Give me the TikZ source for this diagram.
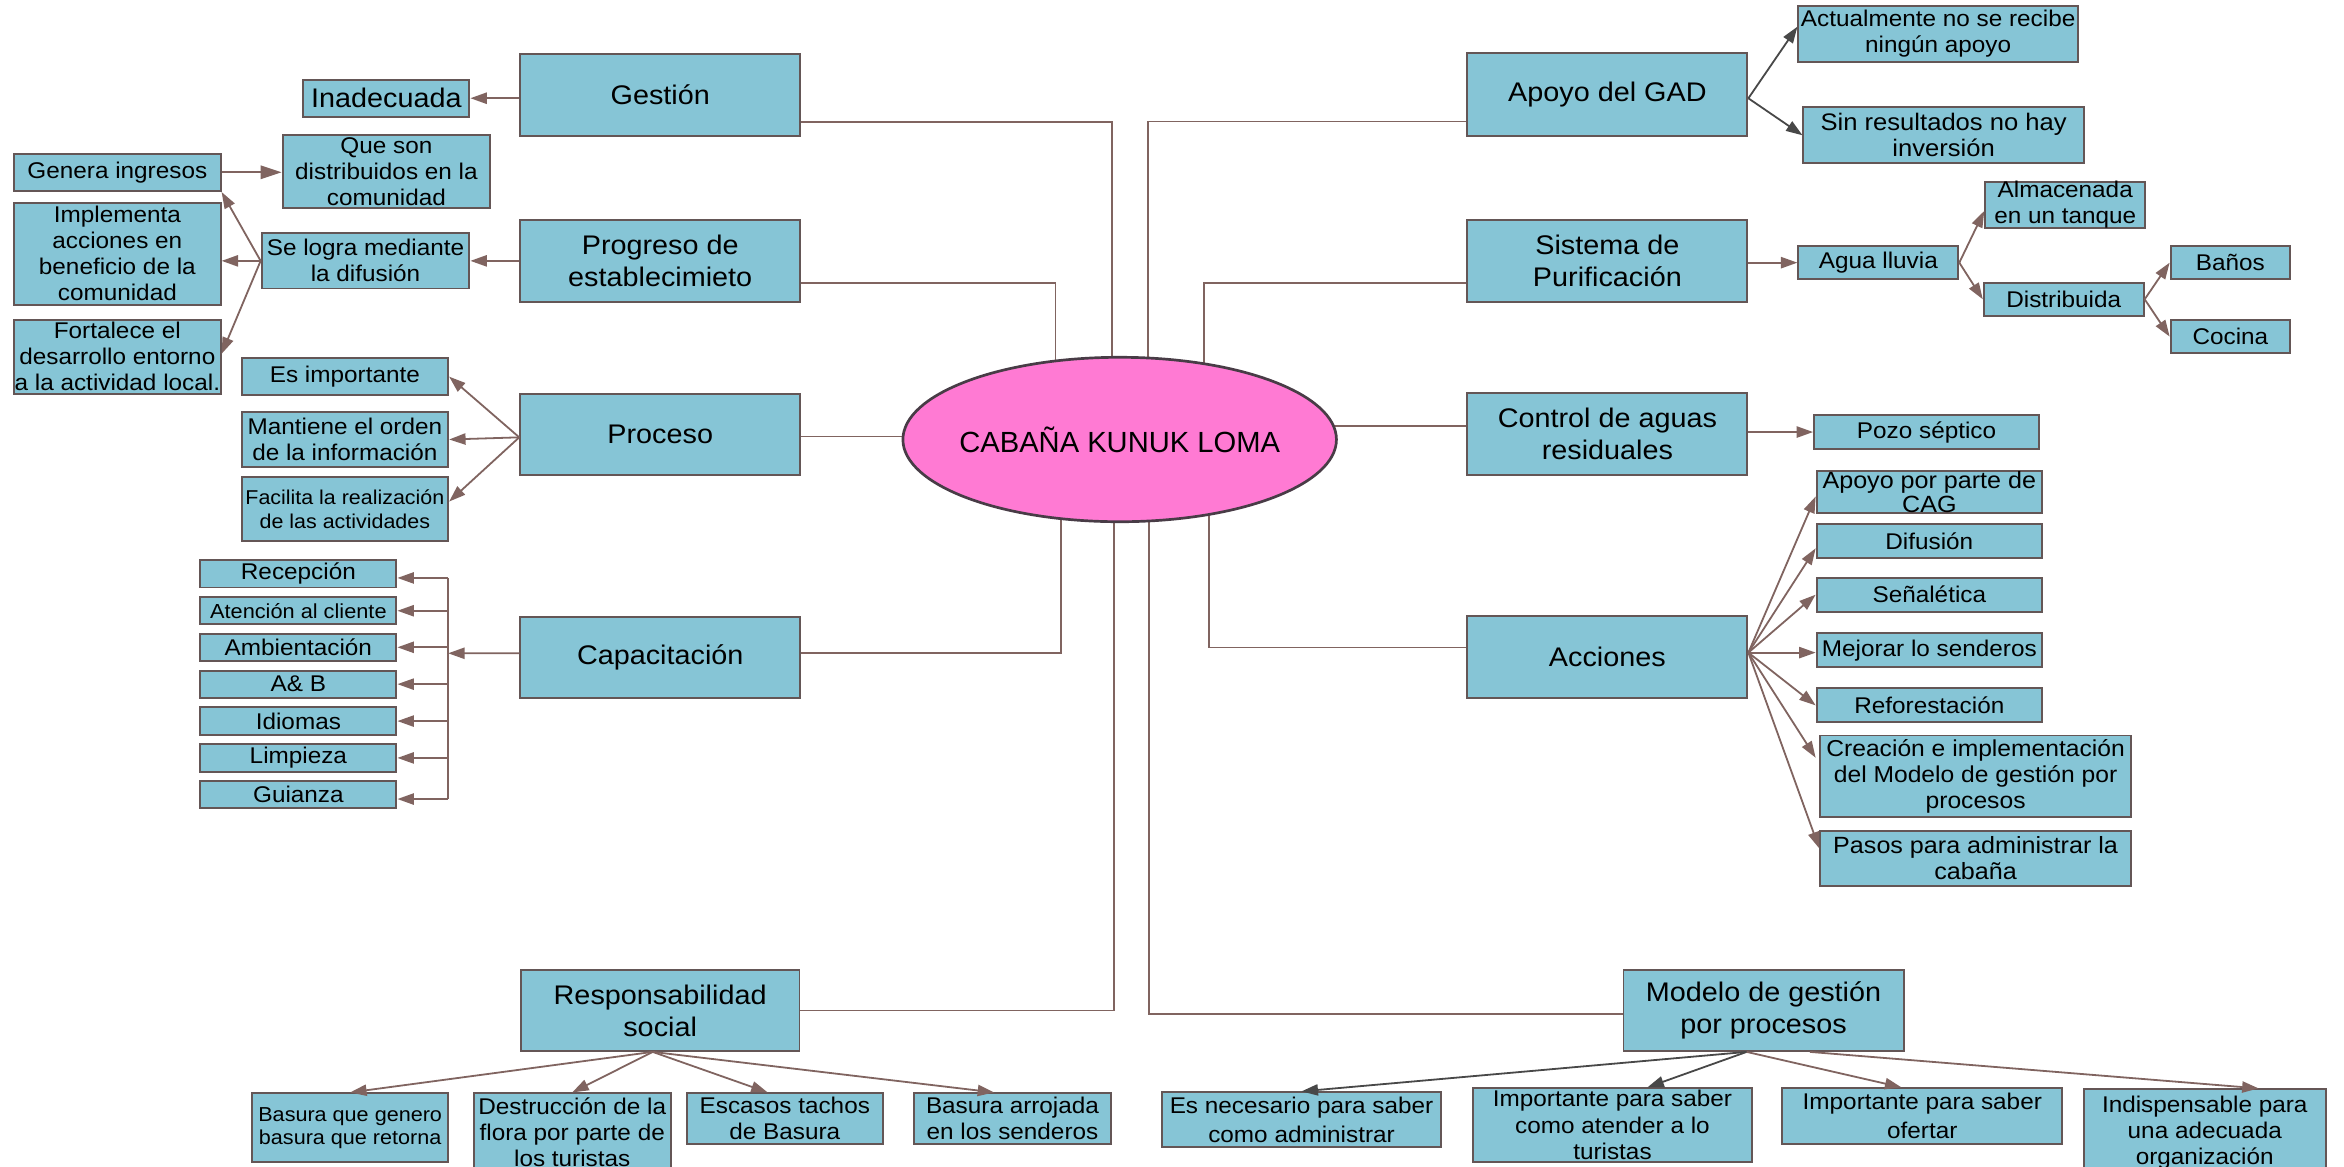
\documentclass[tikz,border=0pt]{standalone}
\usepackage{fontspec}
\setmainfont{Liberation Sans}
\newfontfamily\boxfont[FakeStretch=1.07]{Liberation Sans}
\usetikzlibrary{arrows.meta,shapes.geometric,backgrounds}

\definecolor{boxfill}{RGB}{134,197,214}
\definecolor{boxline}{RGB}{100,86,86}
\definecolor{linkc}{RGB}{128,100,96}
\definecolor{darklink}{RGB}{72,72,72}
\definecolor{hubfill}{RGB}{255,122,211}
\definecolor{hubline}{RGB}{72,60,70}

\tikzset{
  box/.style={draw=boxline, fill=boxfill, line width=1.3pt, inner sep=0pt},
  fs/.style 2 args={font=\boxfont\fontsize{#1}{#2}\selectfont},
  boxtext/.style={inner sep=0pt, align=center, text=black, fs={15.2}{17.4}},
  main/.style={fs={18}{21.5}},
  link/.style={draw=linkc, line width=1.2pt},
  arr/.style={link, -{Triangle[length=11pt,width=7.5pt]}},
  bigarr/.style={link, -{Triangle[length=14pt,width=9pt]}},
  darr/.style={arr, draw=darklink},
}

% box from corner (x1,y1) to (x2,y2), name, text
\newcommand\bx[7][]{%
  \node[box, minimum width={#4-#2}, minimum height={#5-#3}] (#6) at ({(#2+#4)/2},{(#3+#5)/2}) {};
  \node[boxtext, #1] at (#6.center) {#7};}

\begin{document}
\begin{tikzpicture}[x=1pt, y=-1pt]
\useasboundingbox (0,0) rectangle (1568,780);

% central topic
\node[ellipse, draw=hubline, fill=hubfill, line width=1.8pt, minimum width=290pt,
      minimum height=110pt, inner sep=0pt] (hub) at (749,294) {};
\node[inner sep=0pt, font=\fontsize{19.5}{22}\selectfont] at (hub.center) {CABAÑA KUNUK LOMA};

% main branches, left
\bx[main]{348}{36}{535.3}{90.8}{gestion}{Gestión}
\bx[main]{348}{147}{535.3}{202}{progreso}{Progreso de\\establecimieto}
\bx[main]{348}{263.3}{535.3}{317.8}{proceso}{Proceso}
\bx[main]{348}{412.5}{535.3}{466.7}{capac}{Capacitación}
\bx[main]{348.4}{649}{534.8}{703}{resp}{Responsabilidad\\social}

% main branches, right
\bx[main]{981.6}{35.7}{1168.9}{90.8}{apoyo}{Apoyo del GAD}
\bx[main]{981.6}{147.2}{1168.9}{201.8}{sistema}{Sistema de\\Purificación}
\bx[main]{981.6}{263}{1168.9}{317.8}{control}{Control de aguas\\residuales}
\bx[main]{981.6}{412}{1168.9}{467.1}{acciones}{Acciones}
\bx[main]{1086}{649}{1273.4}{703}{modelo}{Modelo de gestión\\por procesos}

% white page and branch lines to the central topic, behind the shapes
\begin{scope}[on background layer]
  \fill[white] (0,0) rectangle (1568,780);
  \draw[link] ([yshift=-18pt]gestion.east) -| ([xshift=-5pt]hub.center);
  \draw[link] ([yshift=-14.7pt]progreso.east) -| ([xshift=-43pt]hub.center);
  \draw[link] ([yshift=-1.5pt]proceso.east) coordinate (pe) -- (pe -| hub.center);
  \draw[link] ([yshift=2.6pt]capac.east) -| ([xshift=-39pt]hub.center);
  \draw[link] (resp.east) -| ([xshift=-4pt]hub.center);
  \draw[link] ([yshift=-18pt]apoyo.west) -| ([xshift=19pt]hub.center);
  \draw[link] ([yshift=-14.6pt]sistema.west) -| ([xshift=56.5pt]hub.center);
  \draw[link] ([yshift=5.6pt]control.west) coordinate (ce) -- (ce -| hub.center);
  \draw[link] ([yshift=6.4pt]acciones.west) -| ([xshift=59.5pt]hub.center);
  \draw[link] ([yshift=-2.3pt]modelo.west) -| ([xshift=19.5pt]hub.center);
\end{scope}

% Gestion and Progreso details
\bx[main]{203}{53.3}{314}{78.1}{inad}{Inadecuada}
\bx{189}{90.3}{328}{139}{queson}{Que son\\distribuidos en la\\comunidad}
\bx{9.4}{102.7}{147.6}{127.8}{genera}{Genera ingresos}
\bx{9.4}{135.7}{147.6}{203.8}{implementa}{Implementa\\acciones en\\beneficio de la\\comunidad}
\bx{9.4}{213.8}{147.6}{263.5}{fortalece}{Fortalece el\\desarrollo entorno\\a la actividad local.}
\bx{175}{156}{314}{193}{selogra}{Se logra mediante\\la difusión}

\draw[arr] (gestion.west |- inad.east) -- (inad.east);
\draw[arr] (progreso.west) -- (selogra.east);
\draw[bigarr] (genera.east) -- (genera.east -| queson.west);
\draw[arr] (selogra.west) -- (genera.south east);
\draw[arr] (selogra.west) -- (selogra.west -| implementa.east);
\draw[arr] (selogra.west) -- ([yshift=2pt]fortalece.east);

% Proceso details
\bx{161.6}{239.6}{299.8}{264.3}{esimp}{Es importante}
\bx{161.6}{275.5}{299.8}{312.5}{mantiene}{Mantiene el orden\\de la información}
\bx[fs={13.4}{16}]{161.6}{319}{299.8}{362}{facilita}{Facilita la realización\\de las actividades}

\draw[arr] ([yshift=-2pt]proceso.west) -- (esimp.east);
\draw[arr] ([yshift=-2pt]proceso.west) -- (mantiene.east);
\draw[arr] ([yshift=-2pt]proceso.west) -- ([yshift=5pt]facilita.east);

% Capacitacion details
\bx{134}{374.6}{265.2}{393}{recep}{Recepción}
\bx[fs={13.6}{16}]{134}{399.5}{265.2}{417.6}{atencion}{Atención al cliente}
\bx{134}{424}{265.2}{442}{ambient}{Ambientación}
\bx{134}{448.6}{265.2}{466.7}{ayb}{A\& B}
\bx{134}{473.2}{265.2}{491.5}{idiomas}{Idiomas}
\bx{134}{497.8}{265.2}{516.2}{limpieza}{Limpieza}
\bx{134}{522.4}{265.2}{540.6}{guianza}{Guianza}

\coordinate (trunk) at (299.8,437);
\draw[arr] ([yshift=2.6pt]capac.west) -- (trunk);
\draw[link] ([yshift=-2.8pt]recep.east -| trunk) -- ([yshift=-3pt]guianza.east -| trunk);
\draw[arr] ([yshift=-2.8pt]recep.east -| trunk) -- ([yshift=-2.8pt]recep.east);
\foreach \n in {atencion,ambient,ayb,idiomas,limpieza}
  \draw[arr] (\n.east -| trunk) -- (\n.east);
\draw[arr] ([yshift=-3pt]guianza.east -| trunk) -- ([yshift=-3pt]guianza.east);

% Responsabilidad social details
\bx[fs={13.5}{15.6}]{168.8}{731.4}{299.7}{777.5}{basura}{Basura que genero\\basura que retorna}
\bx{317}{731.4}{448.6}{784}{destruccion}{Destrucción de la\\flora por parte de\\los turistas}
\bx{459.3}{731.4}{590.7}{765.3}{escasos}{Escasos tachos\\de Basura}
\bx{611.6}{731.4}{743}{765.3}{arrojada}{Basura arrojada\\en los senderos}

\draw[arr] ([xshift=-5pt]resp.south) -- (basura.north);
\draw[arr] ([xshift=-5pt]resp.south) -- (destruccion.north);
\draw[arr] ([xshift=-5pt]resp.south) -- ([xshift=-11.5pt]escasos.north);
\draw[arr] ([xshift=-5pt]resp.south) -- ([xshift=-12.3pt]arrojada.north);

% Apoyo del GAD details
\bx{1203}{3.8}{1390}{41.3}{actual}{Actualmente no se recibe\\ningún apoyo}
\bx[fs={16}{17.4}]{1206.4}{71.8}{1394}{109.2}{sinres}{Sin resultados no hay\\inversión}

\draw[darr] ([yshift=-2.5pt]apoyo.east) -- ([yshift=4.7pt]actual.west);
\draw[darr] ([yshift=-2.5pt]apoyo.east) -- (sinres.west);

% Sistema de Purificacion details
\bx{1203}{164.6}{1310}{186.8}{agua}{Agua lluvia}
\bx{1328}{121.5}{1435}{152.7}{almac}{Almacenada\\en un tanque}
\bx{1327}{189}{1434}{211.4}{distrib}{Distribuida}
\bx{1452}{164.6}{1532}{186.8}{banos}{Baños}
\bx{1452}{214}{1532}{236.3}{cocina}{Cocina}

\draw[arr] (sistema.east |- agua.west) -- (agua.west);
\draw[arr] (agua.east) -- ([yshift=-4pt]almac.west);
\draw[arr] (agua.east) -- (distrib.west);
\draw[arr] (distrib.east) -- (banos.west);
\draw[arr] (distrib.east) -- (cocina.west);

% Control de aguas residuales details
\bx{1213.5}{277.6}{1364}{300.4}{pozo}{Pozo séptico}
\draw[arr] (control.east |- pozo.west) -- (pozo.west);

% Acciones details
\bx[fs={15.7}{16}]{1215.2}{314.8}{1366}{343.4}{cag}{Apoyo por parte de\\CAG}
\bx{1215.2}{350.7}{1366}{373.5}{difusion}{Difusión}
\bx{1215.2}{386.4}{1366}{409.2}{senal}{Señalética}
\bx{1215.2}{423.7}{1366}{446.4}{mejorar}{Mejorar lo senderos}
\bx{1215.2}{460.5}{1366}{483.2}{refor}{Reforestación}
\bx[fs={15.4}{17.4}]{1217.6}{492}{1425.5}{546.7}{creacion}{Creación e implementación\\del Modelo de gestión por\\procesos}
\bx[fs={15.7}{17.2}]{1217.6}{555.7}{1425.5}{592.7}{pasos}{Pasos para administrar la\\cabaña}

\draw[arr] ([yshift=3pt]acciones.east) -- ([yshift=-3pt]cag.west);
\draw[arr] ([yshift=3pt]acciones.east) -- ([yshift=-4.7pt]difusion.west);
\draw[arr] ([yshift=3pt]acciones.east) -- (senal.west);
\draw[arr] ([yshift=3pt]acciones.east) -- ([yshift=3pt]acciones.east -| mejorar.west);
\draw[arr] ([yshift=3pt]acciones.east) -- (refor.west);
\draw[arr] ([yshift=3pt]acciones.east) -- ([xshift=-2.4pt,yshift=12.5pt]creacion.west);
\draw[arr] ([yshift=3pt]acciones.east) -- ([yshift=6.7pt]pasos.west);

% Modelo de gestion por procesos details
\bx[fs={15.2}{20}]{777.3}{730.7}{964}{767.5}{necesario}{Es necesario para saber\\como administrar}
\bx[fs={15.2}{18}]{985.3}{728}{1172}{777}{atender}{Importante para saber\\como atender a lo\\turistas}
\bx[fs={15.2}{19.4}]{1192.3}{728}{1379.5}{765.3}{ofertar}{Importante para saber\\ofertar}
\bx{1394}{728.7}{1555.7}{786}{indisp}{Indispensable para\\una adecuada\\organización}

\draw[darr] ([xshift=-11.3pt]modelo.south) -- (necesario.north);
\draw[darr] ([xshift=-11.3pt]modelo.south) -- ([xshift=23.4pt]atender.north);
\draw[arr] ([xshift=-11.3pt]modelo.south) -- ([xshift=-14pt]ofertar.north);
\draw[arr] ([xshift=31pt]modelo.south) -- ([xshift=36pt]indisp.north);
\end{tikzpicture}
\end{document}
